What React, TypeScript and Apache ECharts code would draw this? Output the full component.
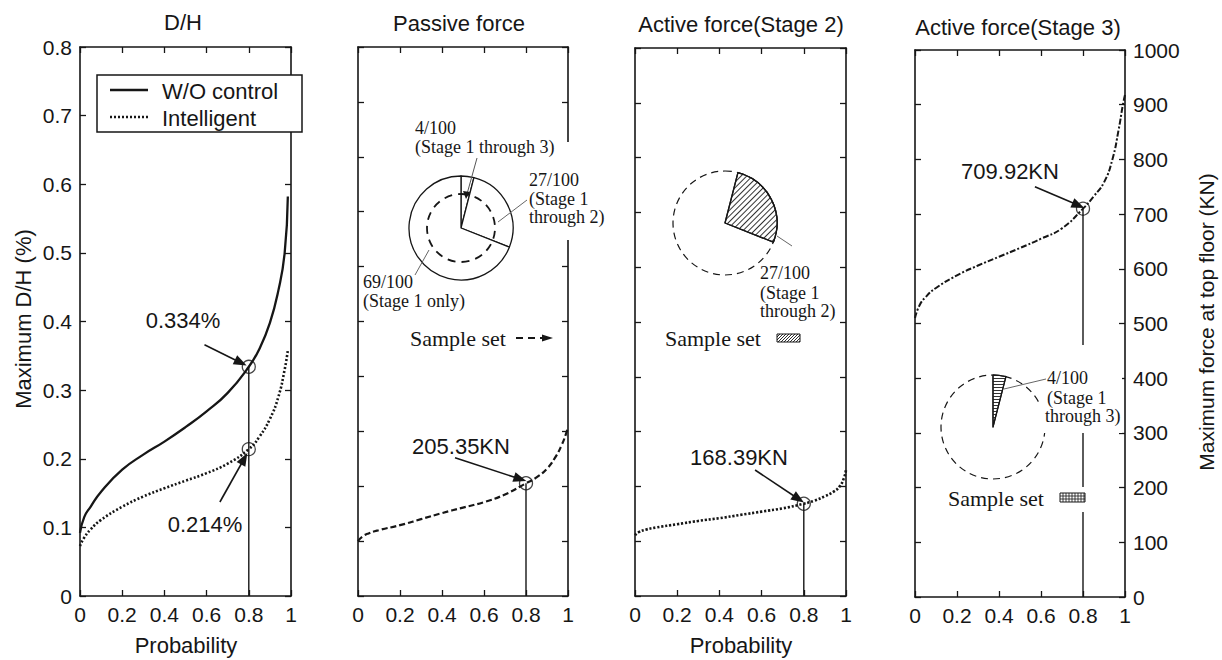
import React, { useEffect, useRef } from 'react';
import * as echarts from 'echarts';

// ---------- data ----------
const PROB_DH = [0, 0.02, 0.05, 0.1, 0.2, 0.3, 0.4, 0.5, 0.6, 0.7, 0.8, 0.85, 0.9, 0.94, 0.97, 0.985];
const DH_WO_CONTROL = [0.092, 0.115, 0.13, 0.152, 0.184, 0.206, 0.225, 0.246, 0.269, 0.296, 0.334, 0.36, 0.398, 0.445, 0.5, 0.582];
const DH_INTELLIGENT = [0.073, 0.085, 0.097, 0.111, 0.13, 0.145, 0.157, 0.168, 0.179, 0.193, 0.214, 0.232, 0.258, 0.29, 0.33, 0.358];

const PROB_F = [0, 0.02, 0.05, 0.1, 0.2, 0.3, 0.4, 0.5, 0.6, 0.7, 0.8, 0.85, 0.9, 0.94, 0.97, 0.99, 1];
const PASSIVE_FORCE = [100, 108, 114, 120, 129, 140, 151, 161, 171, 185, 205.35, 216, 232, 253, 275, 295, 308];
const ACTIVE_STAGE2 = [111, 117, 121, 125, 131, 137, 142, 148, 154, 160, 168.39, 174, 182, 190, 200, 215, 230];
const ACTIVE_STAGE3 = [510, 532, 548, 565, 588, 606, 622, 638, 655, 674, 709.92, 732, 758, 800, 855, 900, 918];

const P_MARK = 0.8;
const MARK_VALUES = [0.334, 0.214, 205.35, 168.39, 709.92];
const MARK_LABELS = ['0.334%', '0.214%', '205.35KN', '168.39KN', '709.92KN'];
const MARK_PANEL = [0, 0, 1, 2, 3];
// arrow annotations (data coordinates): [fromX, fromY, toX, toY]
const ARROWS = [
  [0.59, 0.366, 0.762, 0.34],
  [0.663, 0.137, 0.778, 0.2],
  [0.462, 252, 0.772, 213],
  [0.569, 230, 0.775, 177],
  [0.571, 750, 0.778, 716],
];

const SHARES = [4, 27, 69];
const SHARE_NAMES = ['Stage 1 through 3', 'Stage 1 through 2', 'Stage 1 only'];

const X_TICK = 0.2;
const DH_MAX = 0.8;
const DH_TICK = 0.1;
const FORCE_MAX = 1000;
const FORCE_TICK = 100;

const TITLES = ['D/H', 'Passive force', 'Active force(Stage 2)', 'Active force(Stage 3)'];
const LEGEND = ['W/O control', 'Intelligent'];

// ---------- layout ----------
const GRIDS = [
  { left: 80, top: 47, width: 211, height: 549 },
  { left: 358, top: 47, width: 210, height: 549 },
  { left: 635, top: 48, width: 211, height: 548 },
  { left: 915, top: 50, width: 210, height: 547 },
];
const INK = '#161616';
const SANS = '"Liberation Sans", Arial, Helvetica, sans-serif';
const SERIF = '"Liberation Serif", "Times New Roman", serif';

const zip = (xs: number[], ys: number[]) => ys.map((y, i) => [xs[i], y]);
const fmt = (v: number) => String(parseFloat(v.toFixed(2)));

function txt(text: string, x: number, y: number, opts: any = {}) {
  const { size = 21, family = SANS, align = 'center', rotation = 0, z = 30 } = opts;
  return {
    type: 'text', x, y, rotation, z, silent: true,
    style: { text, fill: INK, fontSize: size, fontFamily: family, align, verticalAlign: 'middle' },
  };
}
function seg(x1: number, y1: number, x2: number, y2: number, opts: any = {}) {
  const { w = 1, color = INK, dash = null, z = 30 } = opts;
  return {
    type: 'line', z, silent: true,
    shape: { x1, y1, x2, y2 },
    style: { stroke: color, lineWidth: w, lineDash: dash || undefined },
  };
}
function whiteBox(x: number, y: number, width: number, height: number, stroke?: boolean) {
  return {
    type: 'rect', z: 20, silent: true,
    shape: { x, y, width, height },
    style: { fill: '#fff', stroke: stroke ? INK : 'none', lineWidth: 1.5 },
  };
}
function diagHatch(x0: number, y0: number, w: number, h: number, step: number) {
  const els: any[] = [];
  for (let k = -h; k < w; k += step) {
    const t0 = Math.max(0, -k), t1 = Math.min(h, w - k);
    if (t1 <= t0) continue;
    els.push(seg(x0 + k + t0, y0 + h - t0, x0 + k + t1, y0 + h - t1, { w: 0.9, z: 31 }));
  }
  return els;
}
function gridHatch(x0: number, y0: number, w: number, h: number, step: number) {
  const els: any[] = [{ type: 'rect', z: 31, silent: true, shape: { x: x0, y: y0, width: w, height: h }, style: { fill: '#fff', stroke: INK, lineWidth: 1 } }];
  for (let x = x0 + step; x < x0 + w; x += step) els.push(seg(x, y0, x, y0 + h, { w: 0.8, z: 32 }));
  els.push(seg(x0, y0 + h / 3, x0 + w, y0 + h / 3, { w: 0.8, z: 32 }));
  els.push(seg(x0, y0 + (2 * h) / 3, x0 + w, y0 + (2 * h) / 3, { w: 0.8, z: 32 }));
  return els;
}

function buildOption() {
  const xAxis: any[] = [];
  const yAxis: any[] = [];
  GRIDS.forEach((_, i) => {
    const axisLine = { show: true, onZero: false, lineStyle: { color: INK, width: 1.6 } };
    const axisTick = { show: true, inside: true, length: 6, lineStyle: { color: INK, width: 1.3 } };
    const baseX = { type: 'value', gridIndex: i, min: 0, max: 1, interval: X_TICK, splitLine: { show: false }, axisLine, axisTick };
    xAxis.push({ ...baseX, position: 'bottom', axisLabel: { show: true, fontSize: 21, fontFamily: SANS, color: INK, margin: 8, formatter: fmt } });
    xAxis.push({ ...baseX, position: 'top', axisLabel: { show: false } });
    const range = i === 0 ? { min: 0, max: DH_MAX, interval: DH_TICK } : { min: 0, max: FORCE_MAX, interval: FORCE_TICK };
    const baseY = { type: 'value', gridIndex: i, ...range, splitLine: { show: false }, axisLine, axisTick };
    const lbl = { show: true, fontSize: 21, fontFamily: SANS, color: INK, margin: 8, formatter: fmt };
    yAxis.push({ ...baseY, position: 'left', axisLabel: i === 0 ? lbl : { show: false } });
    yAxis.push({ ...baseY, position: 'right', axisLabel: i === 3 ? lbl : { show: false } });
  });

  const curve = (name: string, panel: number, xs: number[], ys: number[], lineStyle: any) => ({
    type: 'line', name, xAxisIndex: panel * 2, yAxisIndex: panel * 2,
    data: zip(xs, ys), showSymbol: false, smooth: 0.5, silent: true,
    lineStyle: { color: INK, cap: 'butt', join: 'round', ...lineStyle },
  });

  const series: any[] = [
    curve(LEGEND[0], 0, PROB_DH, DH_WO_CONTROL, { width: 2.3, type: 'solid' }),
    curve(LEGEND[1], 0, PROB_DH, DH_INTELLIGENT, { width: 2.6, type: [2, 2] }),
    curve(TITLES[1], 1, PROB_F, PASSIVE_FORCE, { width: 2.2, type: [6, 3] }),
    curve(TITLES[2], 2, PROB_F, ACTIVE_STAGE2, { width: 2.6, type: [2.2, 1.8] }),
    curve(TITLES[3], 3, PROB_F, ACTIVE_STAGE3, { width: 2, type: [6, 2, 2, 2] }),
  ];

  // vertical drop lines at P_MARK
  [0, 1, 2, 3].forEach((p) => {
    const top = Math.max(...MARK_VALUES.filter((_, k) => MARK_PANEL[k] === p));
    series.push({
      type: 'line', xAxisIndex: p * 2, yAxisIndex: p * 2, silent: true, showSymbol: false,
      data: [[P_MARK, 0], [P_MARK, top]], lineStyle: { color: INK, width: 1.4 },
    });
  });

  // circles + arrows
  MARK_VALUES.forEach((v, k) => {
    const p = MARK_PANEL[k];
    const a = ARROWS[k];
    series.push({
      type: 'scatter', xAxisIndex: p * 2, yAxisIndex: p * 2, silent: true,
      data: [[P_MARK, v]], symbol: 'circle', symbolSize: 13,
      itemStyle: { color: 'rgba(0,0,0,0)', borderColor: INK, borderWidth: 1.3 },
      markLine: {
        silent: true, symbol: ['none', 'triangle'], symbolSize: [10, 13],
        label: { show: false }, lineStyle: { color: INK, width: 1.6, type: 'solid' },
        emphasis: { disabled: true },
        data: [[{ coord: [a[0], a[1]] }, { coord: [a[2], a[3]] }]],
      },
    });
  });

  const pieBase = {
    type: 'pie', silent: true, startAngle: 90, clockwise: true,
    label: { show: false }, labelLine: { show: false }, emphasis: { disabled: true },
  };
  const none = { color: 'rgba(0,0,0,0)', borderWidth: 0 };
  const dashedCircle = (center: number[], r: number, w: number, dash: number[]) => ({
    ...pieBase, center, radius: [0, r],
    data: [{ value: 1, name: 'Sample set', itemStyle: { color: 'rgba(0,0,0,0)', borderColor: INK, borderWidth: w, borderType: dash } }],
  });

  // Passive force: all stages
  series.push({
    ...pieBase, center: [461, 228], radius: [0, 52],
    data: SHARES.map((v, k) => ({ value: v, name: SHARE_NAMES[k], itemStyle: { color: '#fff', borderColor: INK, borderWidth: 1.3 } })),
  });
  series.push(dashedCircle([461, 228], 34, 1.8, [8, 6]));

  // Stage 2
  series.push(dashedCircle([725, 223], 52, 1.2, [7, 5]));
  series.push({
    ...pieBase, center: [725, 223], radius: [0, 52],
    data: SHARES.map((v, k) => ({
      value: v, name: SHARE_NAMES[k],
      itemStyle: k === 1 ? {
        color: '#fff', borderColor: INK, borderWidth: 1.3,
        decal: { symbol: 'rect', symbolSize: 1, color: '#333', backgroundColor: '#fff', dashArrayX: [1, 0], dashArrayY: [1, 2.6], rotation: -Math.PI / 4 },
      } : none,
    })),
  });

  // Stage 3
  series.push(dashedCircle([993, 427], 52, 1.2, [7, 5]));
  series.push({
    ...pieBase, center: [993, 427], radius: [0, 52],
    data: SHARES.map((v, k) => ({
      value: v, name: SHARE_NAMES[k],
      itemStyle: k === 0 ? {
        color: '#fff', borderColor: INK, borderWidth: 1.2,
        decal: { symbol: 'rect', symbolSize: 1, color: '#333', backgroundColor: '#fff', dashArrayX: [1, 0], dashArrayY: [1, 2] },
      } : none,
    })),
  });

  const graphic: any[] = [
    // titles
    txt(TITLES[0], 183, 22, { size: 22 }),
    txt(TITLES[1], 459, 23, { size: 22 }),
    txt(TITLES[2], 741, 24, { size: 22 }),
    txt(TITLES[3], 1018, 27, { size: 22 }),
    // axis names
    txt('Maximum D/H (%)', 23, 319, { size: 22, rotation: Math.PI / 2 }),
    txt('Maximum force at top floor (KN)', 1206, 322, { size: 21, rotation: Math.PI / 2 }),
    txt('Probability', 186, 645, { size: 22 }),
    txt('Probability', 741, 645, { size: 22 }),
    // value annotations
    txt(MARK_LABELS[0], 183, 320, { size: 22 }),
    txt(MARK_LABELS[1], 205, 524, { size: 22 }),
    txt(MARK_LABELS[2], 461, 446, { size: 22 }),
    txt(MARK_LABELS[3], 739, 457, { size: 22 }),
    txt(MARK_LABELS[4], 1010, 171, { size: 22 }),
    // legend
    whiteBox(97, 75, 205, 57, true),
    seg(110, 90, 148, 90, { w: 2.3 }),
    seg(110, 117, 148, 117, { w: 2.6, dash: [2, 2] }),
    txt(LEGEND[0], 162, 91, { size: 22, align: 'left' }),
    txt(LEGEND[1], 162, 118, { size: 22, align: 'left' }),

    // Passive force pie labels
    txt(`${SHARES[0]}/100`, 415, 128, { size: 18, family: SERIF, align: 'left' }),
    txt(`(${SHARE_NAMES[0]})`, 415, 147, { size: 18, family: SERIF, align: 'left' }),
    seg(477, 158, 467, 194, { color: '#555' }),
    { type: 'polygon', z: 30, silent: true, shape: { points: [[463, 191], [470, 192], [466, 199]] }, style: { fill: INK } },
    whiteBox(522, 142, 98, 98),
    txt(`${SHARES[1]}/100`, 529, 180, { size: 18, family: SERIF, align: 'left' }),
    txt('(Stage 1', 529, 199, { size: 18, family: SERIF, align: 'left' }),
    txt('through 2)', 529, 217, { size: 18, family: SERIF, align: 'left' }),
    seg(527, 200, 498, 222, { color: '#666' }),
    txt(`${SHARES[2]}/100`, 363, 282, { size: 18, family: SERIF, align: 'left' }),
    txt(`(${SHARE_NAMES[2]})`, 363, 301, { size: 18, family: SERIF, align: 'left' }),
    seg(429, 250, 415, 275, { color: '#666' }),
    txt('Sample set', 410, 338, { size: 22, family: SERIF, align: 'left' }),
    seg(516, 338, 543, 338, { w: 1.8, dash: [7, 5] }),
    { type: 'polygon', z: 30, silent: true, shape: { points: [[542, 334.5], [553, 338], [542, 341.5]] }, style: { fill: INK } },

    // Stage 2 labels
    txt(`${SHARES[1]}/100`, 760, 273, { size: 18, family: SERIF, align: 'left' }),
    txt('(Stage 1', 760, 293, { size: 18, family: SERIF, align: 'left' }),
    txt('through 2)', 760, 311, { size: 18, family: SERIF, align: 'left' }),
    seg(777, 236, 792, 246, { color: '#666' }),
    txt('Sample set', 665, 338, { size: 22, family: SERIF, align: 'left' }),
    { type: 'rect', z: 30, silent: true, shape: { x: 777, y: 334, width: 23, height: 8 }, style: { fill: '#fff', stroke: INK, lineWidth: 1 } },
    ...diagHatch(777, 334, 23, 8, 3),

    // Stage 3 labels
    whiteBox(1040, 345, 82, 88),
    txt(`${SHARES[0]}/100`, 1047, 378, { size: 18, family: SERIF, align: 'left' }),
    txt('(Stage 1', 1047, 398, { size: 18, family: SERIF, align: 'left' }),
    txt('through 3)', 1045, 416, { size: 18, family: SERIF, align: 'left' }),
    seg(1004, 389, 1046, 379, { color: '#666' }),
    txt('Sample set', 948, 498, { size: 22, family: SERIF, align: 'left' }),
    whiteBox(1055, 487, 36, 25),
    ...gridHatch(1060, 493, 25, 9, 3),
  ];

  return {
    animation: false,
    backgroundColor: '#fff',
    grid: GRIDS.map((g) => ({ ...g, containLabel: false })),
    xAxis, yAxis, series, graphic,
  };
}

export default function App() {
  const ref = useRef<HTMLDivElement>(null);
  useEffect(() => {
    if (!ref.current) return;
    const chart = echarts.init(ref.current, null, { renderer: 'svg' });
    chart.setOption(buildOption() as any);
    return () => chart.dispose();
  }, []);
  return <div ref={ref} style={{ position: 'fixed', left: 0, top: 0, width: 1222, height: 660, background: '#fff' }} />;
}
